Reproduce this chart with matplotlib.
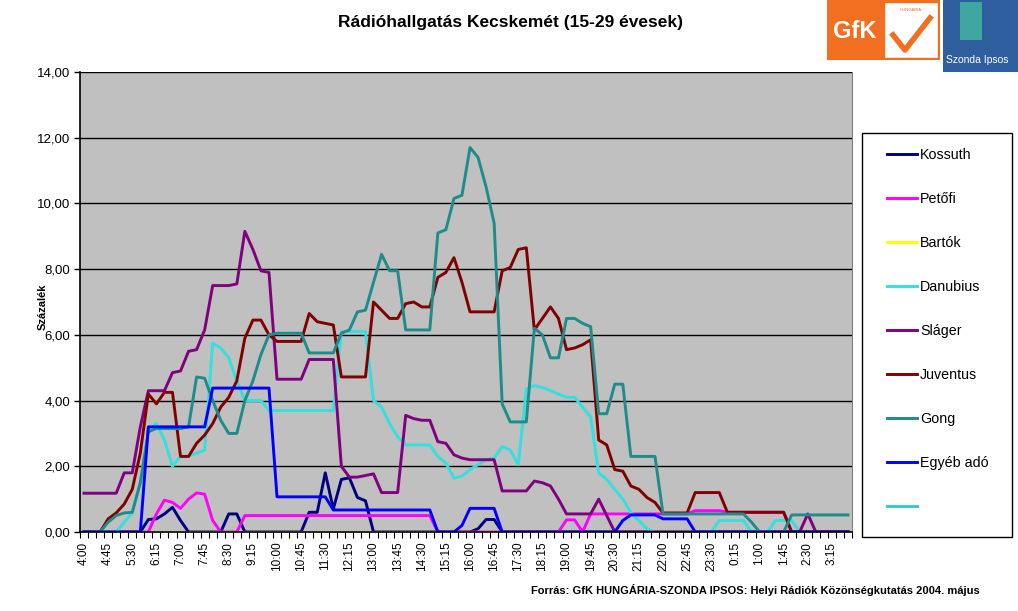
import matplotlib
matplotlib.use("Agg")
import matplotlib.pyplot as plt
from matplotlib.patches import Rectangle
from matplotlib.lines import Line2D
import numpy as np

plt.rcParams['font.family'] = ['Liberation Sans', 'DejaVu Sans']

# 15-minute slots from 4:00 to 3:45 (96 categories)
tick_labels = ["4:00", "4:45", "5:30", "6:15", "7:00", "7:45", "8:30", "9:15",
               "10:00", "10:45", "11:30", "12:15", "13:00", "13:45", "14:30", "15:15",
               "16:00", "16:45", "17:30", "18:15", "19:00", "19:45", "20:30", "21:15",
               "22:00", "22:45", "23:30", "0:15", "1:00", "1:45", "2:30", "3:15"]

kossuth = [0, 0, 0, 0, 0, 0, 0, 0, 0.38, 0.40, 0.55, 0.75,
           0.35, 0, 0, 0, 0, 0, 0.55, 0.55, 0, 0, 0, 0,
           0, 0, 0, 0, 0.60, 0.60, 1.80, 0.70, 1.60, 1.65, 1.05, 0.95,
           0, 0, 0, 0, 0, 0, 0, 0, 0, 0, 0, 0,
           0, 0.10, 0.38, 0.38, 0, 0, 0, 0, 0, 0, 0, 0,
           0, 0, 0, 0, 0, 0, 0, 0, 0, 0, 0, 0,
           0, 0, 0, 0, 0, 0, 0, 0, 0, 0, 0, 0,
           0, 0, 0, 0, 0, 0, 0, 0, 0, 0, 0, 0]

petofi = [0, 0, 0, 0, 0, 0, 0, 0, 0, 0.55, 0.97, 0.90,
          0.72, 1.00, 1.19, 1.15, 0.35, 0, 0, 0, 0.50, 0.50, 0.50, 0.50,
          0.50, 0.50, 0.50, 0.50, 0.50, 0.50, 0.50, 0.50, 0.50, 0.50, 0.50, 0.50,
          0.50, 0.50, 0.50, 0.50, 0.50, 0.50, 0.50, 0.50, 0, 0, 0, 0,
          0, 0, 0, 0, 0, 0, 0, 0, 0, 0, 0, 0,
          0.37, 0.37, 0, 0.55, 0.55, 0.55, 0.55, 0.55, 0.55, 0.55, 0.55, 0.55,
          0.55, 0.55, 0.55, 0.55, 0.65, 0.65, 0.65, 0.65, 0.60, 0.60, 0.60, 0.60,
          0.60, 0.60, 0.60, 0.60, 0, 0, 0, 0, 0, 0, 0, 0]

bartok = [0] * 96

danubius = [0, 0, 0, 0, 0, 0.30, 0.58, 1.50, 3.10, 3.30, 2.80, 2.00,
            2.30, 2.30, 2.40, 2.50, 5.75, 5.60, 5.30, 4.60, 4.00, 4.00, 4.00, 3.70,
            3.70, 3.70, 3.70, 3.70, 3.70, 3.70, 3.70, 3.70, 6.10, 6.10, 6.10, 6.10,
            4.00, 3.80, 3.30, 2.90, 2.65, 2.65, 2.65, 2.65, 2.30, 2.10, 1.64, 1.70,
            1.90, 2.05, 2.20, 2.25, 2.60, 2.50, 2.05, 4.35, 4.45, 4.40, 4.30, 4.20,
            4.10, 4.10, 3.80, 3.50, 1.80, 1.60, 1.30, 1.00, 0.60, 0.35, 0.10, 0,
            0, 0, 0, 0, 0, 0, 0, 0.35, 0.35, 0.35, 0.35, 0,
            0, 0, 0.35, 0.35, 0.35, 0, 0, 0, 0, 0, 0, 0]

slager = [1.18, 1.18, 1.18, 1.18, 1.18, 1.80, 1.80, 3.20, 4.30, 4.30, 4.30, 4.85,
          4.90, 5.50, 5.55, 6.15, 7.50, 7.50, 7.50, 7.55, 9.15, 8.60, 7.95, 7.90,
          4.65, 4.65, 4.65, 4.65, 5.25, 5.25, 5.25, 5.25, 2.00, 1.67, 1.67, 1.72,
          1.77, 1.20, 1.20, 1.20, 3.55, 3.45, 3.40, 3.40, 2.75, 2.70, 2.35, 2.25,
          2.20, 2.20, 2.20, 2.20, 1.25, 1.25, 1.25, 1.25, 1.55, 1.50, 1.40, 1.00,
          0.55, 0.55, 0.55, 0.55, 1.00, 0.50, 0, 0, 0, 0, 0, 0,
          0, 0, 0, 0, 0, 0, 0, 0, 0, 0, 0, 0,
          0, 0, 0, 0, 0, 0, 0.55, 0, 0, 0, 0, 0]

juventus = [0, 0, 0, 0.40, 0.58, 0.85, 1.30, 2.40, 4.20, 3.90, 4.25, 4.25,
            2.30, 2.30, 2.70, 2.95, 3.30, 3.80, 4.10, 4.60, 5.90, 6.45, 6.45, 6.00,
            5.80, 5.80, 5.80, 5.80, 6.65, 6.40, 6.35, 6.30, 4.72, 4.72, 4.72, 4.72,
            7.00, 6.75, 6.50, 6.50, 6.95, 7.00, 6.85, 6.85, 7.75, 7.90, 8.35, 7.60,
            6.70, 6.70, 6.70, 6.70, 7.95, 8.05, 8.60, 8.65, 6.15, 6.50, 6.85, 6.50,
            5.55, 5.60, 5.70, 5.85, 2.80, 2.65, 1.90, 1.85, 1.40, 1.30, 1.05, 0.90,
            0.58, 0.58, 0.58, 0.58, 1.20, 1.20, 1.20, 1.20, 0.60, 0.60, 0.60, 0.60,
            0.60, 0.60, 0.60, 0.60, 0, 0, 0, 0, 0, 0, 0, 0]

gong = [0, 0, 0, 0.30, 0.50, 0.58, 0.60, 1.50, 3.05, 3.15, 3.15, 3.15,
        3.15, 3.20, 4.72, 4.68, 4.00, 3.40, 3.00, 3.00, 4.00, 4.60, 5.40, 6.00,
        6.05, 6.05, 6.05, 6.05, 5.45, 5.45, 5.45, 5.45, 6.05, 6.15, 6.70, 6.75,
        7.60, 8.45, 7.95, 7.95, 6.15, 6.15, 6.15, 6.15, 9.10, 9.20, 10.15, 10.25,
        11.70, 11.40, 10.50, 9.40, 3.90, 3.35, 3.35, 3.35, 6.20, 6.00, 5.30, 5.30,
        6.50, 6.50, 6.35, 6.25, 3.60, 3.60, 4.50, 4.50, 2.30, 2.30, 2.30, 2.30,
        0.55, 0.55, 0.55, 0.55, 0.55, 0.55, 0.55, 0.55, 0.55, 0.55, 0.55, 0.30,
        0, 0, 0, 0, 0.52, 0.52, 0.52, 0.52, 0.52, 0.52, 0.52, 0.52]

egyeb = [0, 0, 0, 0, 0, 0, 0, 0, 3.20, 3.20, 3.20, 3.20,
         3.20, 3.20, 3.20, 3.20, 4.38, 4.38, 4.38, 4.38, 4.38, 4.38, 4.38, 4.38,
         1.07, 1.07, 1.07, 1.07, 1.07, 1.07, 1.07, 0.67, 0.67, 0.67, 0.67, 0.67,
         0.67, 0.67, 0.67, 0.67, 0.67, 0.67, 0.67, 0.67, 0, 0, 0, 0.20,
         0.72, 0.72, 0.72, 0.72, 0, 0, 0, 0, 0, 0, 0, 0,
         0, 0, 0, 0, 0, 0, 0, 0.35, 0.52, 0.52, 0.52, 0.52,
         0.40, 0.40, 0.40, 0.40, 0, 0, 0, 0, 0, 0, 0, 0,
         0, 0, 0, 0, 0, 0, 0, 0, 0, 0, 0, 0]

empty_series = [np.nan] * 96

series_names = ["Kossuth", "Petőfi", "Bartók", "Danubius", "Sláger",
                "Juventus", "Gong", "Egyéb adó", " "]
series_values = [kossuth, petofi, bartok, danubius, slager, juventus, gong, egyeb,
                 empty_series]
series_colors = ["#000080", "#FF00FF", "#FFFF00", "#33E0E0", "#800080",
                 "#800000", "#1F8C8C", "#0000FF", "#33CCCC"]

W, H = 1018, 611
fig = plt.figure(figsize=(W / 100, H / 100), dpi=100)
fig.patch.set_facecolor("white")
ax = fig.add_axes([80 / W, 1 - 532 / H, (852 - 80) / W, (532 - 72) / H])
ax.set_facecolor("#C0C0C0")

x = np.arange(96)
handles = []
for name, vals, col in zip(series_names, series_values, series_colors):
    ln, = ax.plot(x, vals, color=col, lw=2.1, solid_joinstyle="round", label=name)
    handles.append(ln)

ax.set_xlim(-0.5, 95.5)
ax.set_ylim(0, 14)
ax.set_yticks(np.arange(0, 15, 2))
ax.set_yticklabels([f"{v:.2f}".replace(".", ",") for v in np.arange(0, 15, 2)], fontsize=9.5)
ax.yaxis.grid(True, color="black", lw=1.0)
ax.set_axisbelow(True)
ax.tick_params(axis="y", direction="out", length=4, width=1, pad=3)

ax.set_xticks(np.arange(0, 96, 3))
ax.set_xticklabels(tick_labels, rotation=90, fontsize=8.5)
ax.set_xticks(np.arange(-0.5, 96, 1), minor=True)
ax.tick_params(axis="x", which="major", length=0, pad=7)
ax.tick_params(axis="x", which="minor", direction="out", length=4, width=0.8)

for s in ["left", "bottom"]:
    ax.spines[s].set_color("black")
    ax.spines[s].set_linewidth(1.2)
ax.spines["top"].set_visible(False)
ax.spines["right"].set_color("#808080")

ax.set_ylabel("Százalék", fontsize=8, fontweight="bold")
ax.yaxis.set_label_coords((48 - 80) / 772, 0.49)

fig.text(511 / W, 1 - 22 / H, "Rádióhallgatás Kecskemét (15-29 évesek)",
         ha="center", va="center", fontsize=12.5, fontweight="bold")
fig.text(980 / W, 1 - 590 / H,
         "Forrás: GfK HUNGÁRIA-SZONDA IPSOS: Helyi Rádiók Közönségkutatás 2004. május",
         ha="right", va="center", fontsize=8, fontweight="bold")

# legend box
fig.patches.append(Rectangle((862 / W, 1 - 537 / H), 150 / W, 404 / H,
                             transform=fig.transFigure, facecolor="white",
                             edgecolor="black", lw=1.0, zorder=1))
leg = fig.legend(handles=handles, labels=series_names, loc="upper left",
                 bbox_to_anchor=(887 / W, 1 - 148 / H), bbox_transform=fig.transFigure,
                 frameon=False, fontsize=10.3, labelspacing=2.1, handlelength=2.1,
                 handletextpad=0.2, borderpad=0, borderaxespad=0)
leg.set_zorder(10)

# logos (decorative)
fig.patches.append(Rectangle((827 / W, 1 - 60 / H), 113 / W, 60 / H,
                             transform=fig.transFigure, facecolor="#F26F21",
                             edgecolor="none"))
fig.patches.append(Rectangle((884 / W, 1 - 58 / H), 54 / W, 56 / H,
                             transform=fig.transFigure, facecolor="white",
                             edgecolor="#F26F21"))
fig.text(855 / W, 1 - 32 / H, "GfK", color="white", fontsize=17, fontweight="bold",
         ha="center", va="center")
fig.text(911 / W, 1 - 10 / H, "HUNGÁRIA", color="#F26F21", fontsize=3,
         ha="center", va="center")
fig.lines.append(Line2D([893 / W, 905 / W, 930 / W], [1 - 35 / H, 1 - 50 / H, 1 - 18 / H],
                        transform=fig.transFigure, color="#F26F21", lw=4))
fig.patches.append(Rectangle((943 / W, 1 - 72 / H), 75 / W, 72 / H,
                             transform=fig.transFigure, facecolor="#2E5E9E",
                             edgecolor="none"))
fig.patches.append(Rectangle((960 / W, 1 - 40 / H), 22 / W, 38 / H,
                             transform=fig.transFigure, facecolor="#3FA7A0",
                             edgecolor="none"))
fig.text(946 / W, 1 - 60 / H, "Szonda Ipsos", color="white", fontsize=7.5,
         ha="left", va="center")

fig.savefig("out.png", dpi=100)
